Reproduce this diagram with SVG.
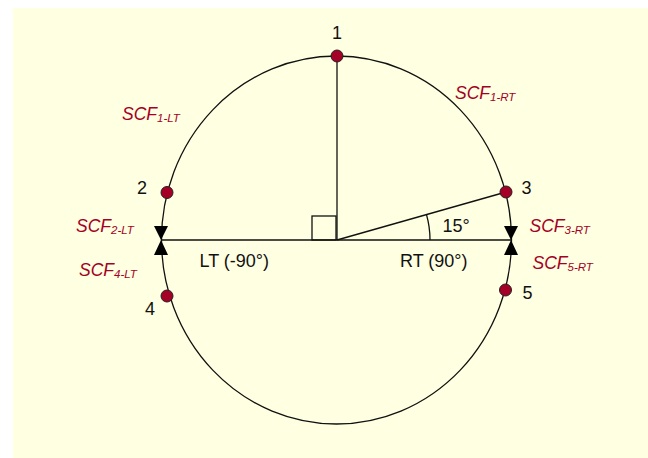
<svg xmlns="http://www.w3.org/2000/svg" width="648" height="458" viewBox="0 0 648 458">
<style>
.ln{stroke:#111;stroke-width:1.3;fill:none}
.nd{fill:#A50026;stroke:#222;stroke-width:1}
.num{font-family:"Liberation Sans",Arial,sans-serif;font-size:18px;fill:#111}
.scf{font-family:"Liberation Sans",Arial,sans-serif;font-size:17.5px;font-style:italic;fill:#A50026}
.sub{font-size:11.5px}
.ar{fill:#000}
</style>
<rect x="13" y="8" width="635" height="450" fill="#FFFFE1"/>
<g id="connectors">
<ellipse class="ln" cx="336.5" cy="240" rx="175" ry="184"/>
<line class="ln" x1="161.5" y1="240" x2="511.5" y2="240"/>
<line class="ln" x1="337" y1="56" x2="337" y2="240"/>
<line class="ln" x1="337" y1="240" x2="506" y2="192"/>
<rect class="ln" x="312" y="216" width="24" height="24"/>
<path class="ln" d="M430 240 A93 93 0 0 0 426.5 214.6"/>
<polygon class="ar" points="154,226 168,226 161,240"/>
<polygon class="ar" points="161,240 154,255 168,255"/>
<polygon class="ar" points="504,226 518,226 511,240"/>
<polygon class="ar" points="511,240 504,255 518,255"/>
</g>
<g id="node1"><circle class="nd" cx="337" cy="56" r="6"/><text class="num" x="337" y="38.5" text-anchor="middle">1</text></g>
<g id="node2"><circle class="nd" cx="167" cy="192.5" r="6"/><text class="num" x="137" y="194">2</text></g>
<g id="node3"><circle class="nd" cx="506" cy="192" r="6"/><text class="num" x="521.5" y="194">3</text></g>
<g id="node4"><circle class="nd" cx="167" cy="296" r="6"/><text class="num" x="145" y="315">4</text></g>
<g id="node5"><circle class="nd" cx="505.5" cy="290" r="6"/><text class="num" x="522.5" y="299">5</text></g>
<g id="labels">
<text class="scf" x="122" y="120">SCF<tspan class="sub" dy="2">1-LT</tspan></text>
<text class="scf" x="455" y="98.5">SCF<tspan class="sub" dy="2">1-RT</tspan></text>
<text class="scf" x="76" y="231.5">SCF<tspan class="sub" dy="2">2-LT</tspan></text>
<text class="scf" x="79" y="275.5">SCF<tspan class="sub" dy="2">4-LT</tspan></text>
<text class="scf" x="529.5" y="231.5">SCF<tspan class="sub" dy="2">3-RT</tspan></text>
<text class="scf" x="532.5" y="268.5">SCF<tspan class="sub" dy="2">5-RT</tspan></text>
<text class="num" x="199.5" y="266.5">LT (-90°)</text>
<text class="num" x="400" y="266.5">RT (90°)</text>
<text class="num" x="442.5" y="232" font-size="17">15°</text>
</g>
</svg>
